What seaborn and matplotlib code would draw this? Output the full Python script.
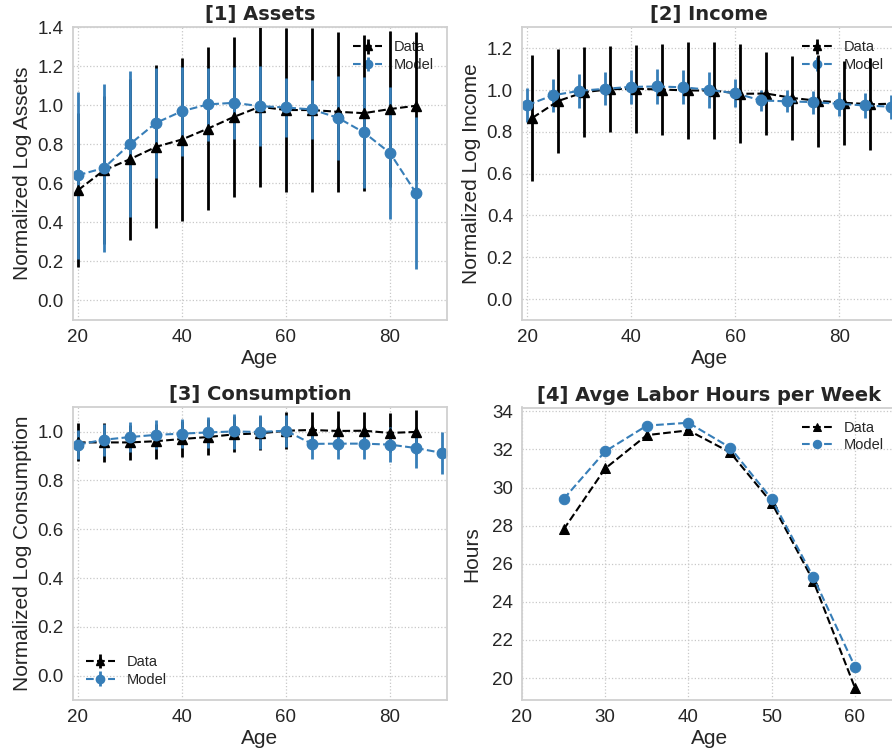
import matplotlib
matplotlib.use("Agg")
import matplotlib.pyplot as plt
import seaborn as sns

# ---------------- data ----------------
ages = [20, 25, 30, 35, 40, 45, 50, 55, 60, 65, 70, 75, 80, 85]
ages_long = [20, 25, 30, 35, 40, 45, 50, 55, 60, 65, 70, 75, 80, 85, 90]
income_data_ages = [21, 26, 31, 36, 41, 46, 51, 56, 61, 66, 71, 76, 81, 86, 91]
hours_ages = [25, 30, 35, 40, 45, 50, 55, 60]

assets_data = [0.565, 0.667, 0.724, 0.787, 0.825, 0.881, 0.941, 0.993, 0.976,
               0.976, 0.967, 0.960, 0.981, 0.998]
assets_data_sd = [0.394, 0.380, 0.413, 0.418, 0.418, 0.417, 0.410, 0.410, 0.420,
                  0.420, 0.410, 0.400, 0.400, 0.378]
assets_model = [0.642, 0.679, 0.801, 0.910, 0.970, 1.005, 1.013, 0.996, 0.989,
                0.979, 0.936, 0.861, 0.756, 0.551]
assets_model_sd = [0.428, 0.432, 0.373, 0.282, 0.227, 0.187, 0.183, 0.205, 0.150,
                   0.153, 0.214, 0.286, 0.339, 0.388]

income_data = [0.867, 0.948, 0.990, 1.004, 1.006, 1.002, 0.998, 0.997, 0.982,
               0.983, 0.962, 0.948, 0.939, 0.932, 0.935]
income_data_sd = [0.300, 0.250, 0.214, 0.205, 0.210, 0.218, 0.230, 0.232, 0.237,
                  0.200, 0.200, 0.219, 0.200, 0.220, 0.200]
income_model = [0.928, 0.975, 0.996, 1.006, 1.015, 1.017, 1.013, 1.001, 0.985,
                0.950, 0.946, 0.942, 0.934, 0.926, 0.920]
income_model_sd = [0.082, 0.078, 0.080, 0.080, 0.080, 0.082, 0.082, 0.087, 0.067,
                   0.050, 0.052, 0.055, 0.058, 0.058, 0.058]

cons_data = [0.956, 0.956, 0.956, 0.961, 0.970, 0.978, 0.989, 0.993, 1.004,
             1.007, 1.003, 1.004, 0.995, 0.999]
cons_data_sd = [0.078, 0.080, 0.072, 0.071, 0.074, 0.072, 0.074, 0.070, 0.075,
                0.075, 0.080, 0.077, 0.080, 0.090]
cons_model = [0.947, 0.967, 0.978, 0.987, 0.992, 0.997, 1.001, 0.999, 1.004,
              0.950, 0.951, 0.951, 0.947, 0.933, 0.913]
cons_model_sd = [0.060, 0.065, 0.062, 0.060, 0.060, 0.063, 0.070, 0.070, 0.065,
                 0.060, 0.063, 0.065, 0.073, 0.080, 0.085]

hours_data = [27.8, 31.0, 32.75, 33.0, 31.85, 29.2, 25.1, 19.5]
hours_model = [29.4, 31.9, 33.25, 33.4, 32.1, 29.4, 25.3, 20.6]

# ---------------- style ----------------
sns.set_style("whitegrid", {"grid.linestyle": ":", "axes.edgecolor": ".8",
                            "grid.color": ".8"})
plt.rcParams["font.family"] = ["Liberation Sans", "DejaVu Sans"]

BLUE = "#377eb8"
BLACK = "black"
TICK_FS = 13.5
LABEL_FS = 15
TITLE_FS = 14
LEG_FS = 10.5

fig = plt.figure(figsize=(8.92, 7.48), dpi=100)
W, H = 892.0, 748.0


def place(left, top, right, bottom):
    return fig.add_axes([left / W, 1 - bottom / H, (right - left) / W, (bottom - top) / H])


ax1 = place(72.7, 27.3, 447.2, 320.0)
ax2 = place(522.0, 27.3, 896.5, 320.0)
ax3 = place(72.7, 407.3, 447.2, 700.0)
ax4 = place(522.0, 407.5, 896.5, 700.0)


def style_axes(ax, title, ylabel):
    ax.set_title(title, fontsize=TITLE_FS, fontweight="bold", color="#262626",
                 family="DejaVu Sans", pad=5)
    ax.set_xlabel("Age", fontsize=LABEL_FS, labelpad=2)
    ax.set_ylabel(ylabel, fontsize=LABEL_FS, labelpad=4)
    ax.tick_params(labelsize=TICK_FS, pad=3)
    for sp in ax.spines.values():
        sp.set_linewidth(1.3)
        sp.set_color("#d0d0d0")
    ax.grid(True, linestyle=":", color="#c8c8c8", linewidth=0.9)


def errorbar_pair(ax, xd, yd, ed, xm, ym, em):
    h1 = ax.errorbar(xd, yd, yerr=ed, fmt="--", marker="^", color=BLACK,
                     ms=7.5, mec=BLACK, lw=1.5, elinewidth=2.0, capsize=0,
                     label="Data")
    h2 = ax.errorbar(xm, ym, yerr=em, fmt="--", marker="o", color=BLUE,
                     ms=7.5, mec=BLUE, lw=1.5, elinewidth=2.0, capsize=0,
                     label="Model")
    return [h1, h2]


def add_legend(ax, handles, loc):
    leg = ax.legend(handles=handles, labels=["Data", "Model"], loc=loc,
                    frameon=False, fontsize=LEG_FS, handlelength=2.0,
                    borderaxespad=0.5, labelspacing=0.25, markerscale=0.8)
    leg.set_zorder(1)


# [1] Assets
hs = errorbar_pair(ax1, ages, assets_data, assets_data_sd,
                   ages, assets_model, assets_model_sd)
ax1.set_xlim(19, 91)
ax1.set_ylim(-0.1, 1.4)
ax1.set_yticks([0.0, 0.2, 0.4, 0.6, 0.8, 1.0, 1.2, 1.4])
ax1.set_yticklabels([f"{v:.1f}" for v in ax1.get_yticks()])
ax1.set_xticks([20, 40, 60, 80])
style_axes(ax1, "[1] Assets", "Normalized Log Assets")
add_legend(ax1, hs, "upper right")

# [2] Income
hs = errorbar_pair(ax2, income_data_ages, income_data, income_data_sd,
                   ages_long, income_model, income_model_sd)
ax2.set_xlim(19, 91)
ax2.set_ylim(-0.1, 1.3)
ax2.set_yticks([0.0, 0.2, 0.4, 0.6, 0.8, 1.0, 1.2])
ax2.set_yticklabels([f"{v:.1f}" for v in ax2.get_yticks()])
ax2.set_xticks([20, 40, 60, 80])
style_axes(ax2, "[2] Income", "Normalized Log Income")
add_legend(ax2, hs, "upper right")

# [3] Consumption
hs = errorbar_pair(ax3, ages, cons_data, cons_data_sd,
                   ages_long, cons_model, cons_model_sd)
ax3.set_xlim(19, 91)
ax3.set_ylim(-0.1, 1.1)
ax3.set_yticks([0.0, 0.2, 0.4, 0.6, 0.8, 1.0])
ax3.set_yticklabels([f"{v:.1f}" for v in ax3.get_yticks()])
ax3.set_xticks([20, 40, 60, 80])
style_axes(ax3, "[3] Consumption", "Normalized Log Consumption")
add_legend(ax3, hs, "lower left")

# [4] Labor hours
sns.lineplot(x=hours_ages, y=hours_data, ax=ax4, color=BLACK, marker="^",
             linestyle="--", lw=1.5, ms=7.5, mec=BLACK, label="Data")
sns.lineplot(x=hours_ages, y=hours_model, ax=ax4, color=BLUE, marker="o",
             linestyle="--", lw=1.5, ms=7.5, mec=BLUE, label="Model")
ax4.set_xlim(20, 65)
ax4.set_ylim(18.85, 34.2)
ax4.set_xticks([20, 30, 40, 50, 60])
ax4.set_yticks([20, 22, 24, 26, 28, 30, 32, 34])
style_axes(ax4, "[4] Avge Labor Hours per Week", "Hours")
ax4.set_ylabel("Hours", fontsize=LABEL_FS, labelpad=8)
leg = ax4.legend(loc="upper right", frameon=False, fontsize=LEG_FS,
                 handlelength=2.0, borderaxespad=0.5, labelspacing=0.25,
                 markerscale=0.8)
leg.set_zorder(1)

fig.savefig("out.png", dpi=100)
